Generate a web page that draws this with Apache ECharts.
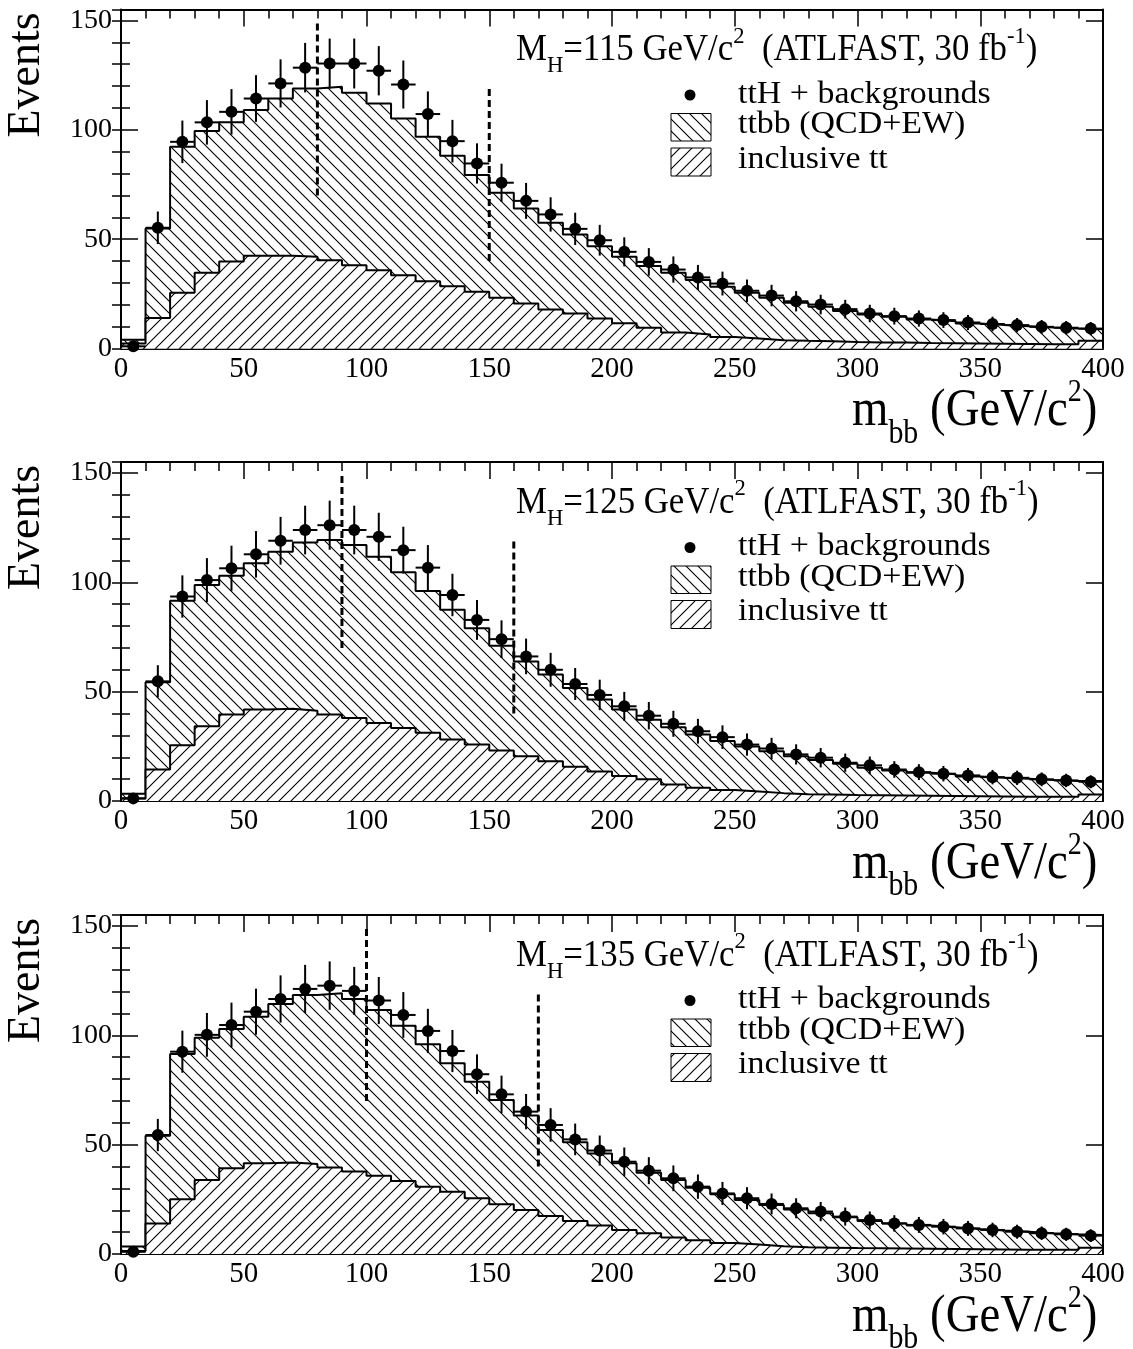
<!DOCTYPE html>
<html><head><meta charset="utf-8">
<script src="https://cdn.jsdelivr.net/npm/echarts@6/dist/echarts.min.js"></script>
<style>html,body{margin:0;padding:0;background:#fff}#c{width:1133px;height:1349px}</style>
</head><body><div id="c"></div>
<script>
// ---- bins (GeV/c^2): lower edges, 10 GeV wide ----
const binLow = [0,10,20,30,40,50,60,70,80,90,100,110,120,130,140,150,160,170,180,190,
                200,210,220,230,240,250,260,270,280,290,300,310,320,330,340,350,360,370,380,390];
const binWidth = 10;

// ---- Higgs mass hypotheses ----
const higgsMass = ['115', '125', '135'];

// ---- M_H = 115 ----
const data115 = [1.0,55.2,94.5,103.4,108.2,114.3,121.2,128.4,130.3,130.3,127.0,120.7,107.2,94.8,84.6,75.8,67.5,61.3,54.7,49.5,
                 44.2,39.6,36.1,32.5,29.7,26.4,24.2,21.6,20.1,18.0,16.0,14.8,13.7,13.0,11.9,11.2,10.7,9.9,9.5,9.1];
const bkg115  = [4.0,54.9,92.2,99.4,103.4,109.0,114.3,118.9,119.7,116.9,112.0,105.2,96.8,88.1,79.3,71.2,64.0,57.5,52.1,46.8,
                 41.9,37.7,34.6,31.3,28.2,25.5,23.2,20.9,19.1,17.2,15.5,14.5,13.3,12.5,11.4,10.7,10.2,9.6,9.1,8.8];
const tt115   = [2.3,14.0,25.5,34.6,39.8,42.4,42.4,41.9,40.4,38.1,35.8,33.5,30.8,28.5,25.9,23.2,20.6,17.8,16.0,13.7,
                 11.5,9.5,7.3,6.4,5.3,4.6,3.8,3.5,3.3,3.0,2.8,2.7,2.5,2.4,2.3,2.2,2.1,2.0,1.9,3.5];

// ---- M_H = 125 ----
const data125 = [1.2,54.7,93.5,101.0,106.4,112.8,119.0,123.9,126.1,123.9,120.8,114.7,106.7,94.2,82.8,74.0,66.1,60.0,53.5,48.5,
                 43.3,39.0,35.3,31.9,29.2,25.8,24.0,21.3,19.8,17.5,16.3,14.4,13.2,12.5,11.7,10.9,10.6,9.9,9.4,8.8];
const bkg125  = [3.3,54.3,91.6,98.8,103.0,108.7,114.0,118.2,119.3,117.0,111.7,104.6,96.0,87.4,79.0,71.0,63.8,57.8,51.7,46.4,
                 41.8,37.2,33.7,30.4,27.4,24.9,22.8,20.5,18.7,17.0,15.2,14.0,12.9,12.2,11.2,10.6,10.2,9.6,9.1,9.1];
const tt125   = [1.2,14.4,25.5,34.2,39.5,41.8,42.2,41.3,39.5,38.0,35.7,33.4,31.2,28.1,25.8,23.1,20.5,18.2,15.7,13.5,
                 11.4,9.9,7.5,6.1,5.0,4.3,3.6,3.1,3.0,2.7,2.6,2.5,2.4,2.3,2.2,2.1,2.0,1.9,1.9,3.0];

// ---- M_H = 135 ----
const data135 = [1.0,54.4,92.5,100.2,104.7,110.8,116.6,121.2,122.7,120.3,115.9,109.3,102.0,92.8,82.2,73.0,65.1,59.0,52.4,47.3,
                 42.2,38.1,34.6,30.8,27.7,25.5,22.9,20.9,19.4,17.1,15.5,14.0,13.3,12.5,11.7,11.0,10.2,9.5,9.0,8.4];
const bkg135  = [3.4,54.1,91.5,98.9,102.9,108.5,114.3,118.4,119.2,116.6,111.6,104.4,95.9,87.2,78.8,70.4,63.3,56.7,51.1,46.0,
                 41.5,37.2,33.8,30.3,27.3,24.7,22.4,20.4,18.6,16.8,15.1,14.0,13.0,12.2,11.4,10.7,10.2,9.5,9.0,8.7];
const tt135   = [1.4,14.0,25.0,33.8,39.2,41.5,41.8,41.2,39.5,37.7,35.8,33.4,30.8,28.5,25.5,22.7,20.1,17.4,15.1,13.0,
                 11.0,9.5,7.5,6.3,5.0,4.3,3.5,3.1,2.9,2.7,2.6,2.5,2.4,2.3,2.2,2.1,2.0,1.9,1.9,2.9];

// ---- mass-window cuts (dashed lines) ----
const windowLow  = [80, 90, 100];
const windowHigh = [150, 160, 170];
const windowLowSpan  = [70, 150];
const windowHighSpan = [40, 120];

// ---- axes ----
const xRange = [0, 400], xMajor = 50, xMinorSplit = 5;
const yRange = [0, 155], yMajor = 50, yMinor = 10;

// ---- legend texts ----
const legendLabels = ['ttH + backgrounds', 'ttbb (QCD+EW)', 'inclusive tt'];

const panels = [
  {mh: higgsMass[0], data: data115, bkg: bkg115, tt: tt115, lo: windowLow[0], hi: windowHigh[0]},
  {mh: higgsMass[1], data: data125, bkg: bkg125, tt: tt125, lo: windowLow[1], hi: windowHigh[1]},
  {mh: higgsMass[2], data: data135, bkg: bkg135, tt: tt135, lo: windowLow[2], hi: windowHigh[2]}
];

// ---- layout ----
const FF = '"Liberation Serif", "Times New Roman", serif';
const gridTops = [9.5, 462, 915];
const gridLeft = 121, gridW = 982, gridH = 339;

function hatch(dir) {
  const s = 12, c = document.createElement('canvas');
  c.width = s; c.height = s;
  const g = c.getContext('2d');
  g.fillStyle = '#fff'; g.fillRect(0, 0, s, s);
  g.strokeStyle = '#000'; g.lineWidth = 1.1;
  g.beginPath();
  if (dir === '/') {
    g.moveTo(0, s); g.lineTo(s, 0);
    g.moveTo(-2, 2); g.lineTo(2, -2);
    g.moveTo(s - 2, s + 2); g.lineTo(s + 2, s - 2);
  } else {
    g.moveTo(0, 0); g.lineTo(s, s);
    g.moveTo(s - 2, -2); g.lineTo(s + 2, 2);
    g.moveTo(-2, s - 2); g.lineTo(2, s + 2);
  }
  g.stroke();
  return c;
}
const patBkg = {image: hatch('\\'), repeat: 'repeat'};
const patTT  = {image: hatch('/'), repeat: 'repeat'};

const mctx = document.createElement('canvas').getContext('2d');
function tw(t, size) { mctx.font = size + 'px "Liberation Serif"'; return mctx.measureText(t).width; }
function piece(t, x, base, size) {
  return {type: 'text', x: x, y: base - 0.34 * size,
    style: {text: t, fontSize: size, fontFamily: FF, fill: '#000', align: 'left', verticalAlign: 'middle'}};
}
function scriptLine(parts, F) {
  let x = 0; const ch = [];
  parts.forEach(p => {
    const size = p.sub || p.sup ? F * (p.k || 0.65) : F;
    const dy = p.sub ? 0.3 * F : (p.sup ? -0.5 * F : 0);
    ch.push(piece(p.t, x, dy, size));
    x += tw(p.t, size);
  });
  return ch;
}

function histLine(vals) {
  const pts = [[binLow[0], 0]];
  vals.forEach((v, i) => pts.push([binLow[i], v]));
  const lastEdge = binLow[binLow.length - 1] + binWidth;
  pts.push([lastEdge, vals[vals.length - 1]]);
  pts.push([lastEdge, 0]);
  return pts;
}

const grid = [], xAxis = [], yAxis = [], series = [], graphic = [];
const tick = {color: '#000', width: 1.5};

panels.forEach((P, p) => {
  const top = gridTops[p];
  grid.push({left: gridLeft, top: top, width: gridW, height: gridH, containLabel: false, outerBoundsMode: 'none'});
  ['bottom', 'top'].forEach(pos => {
    xAxis.push({gridIndex: p, type: 'value', position: pos, min: xRange[0], max: xRange[1], interval: xMajor,
      axisLine: {show: true, onZero: false, lineStyle: {color: '#000', width: 2}},
      axisTick: {show: true, inside: true, length: 17, lineStyle: tick},
      minorTick: {show: true, splitNumber: xMinorSplit, length: 9, lineStyle: tick},
      splitLine: {show: false}, minorSplitLine: {show: false},
      axisLabel: {show: pos === 'bottom', fontSize: 29, fontFamily: FF, color: '#000', margin: 6}});
  });
  ['left', 'right'].forEach(pos => {
    yAxis.push({gridIndex: p, type: 'value', position: pos, min: yRange[0], max: yRange[1], interval: yMajor,
      axisLine: {show: true, onZero: false, lineStyle: {color: '#000', width: 2}},
      axisTick: {show: true, inside: true, length: 17, lineStyle: tick},
      splitLine: {show: false},
      axisLabel: {show: pos === 'left', fontSize: 28, fontFamily: FF, color: '#000', margin: 9,
        formatter: v => (v % yMajor === 0 ? String(v) : '')}});
    yAxis.push({gridIndex: p, type: 'value', position: pos, min: yRange[0], max: yRange[1], interval: yMinor,
      axisLine: {show: false},
      axisTick: {show: true, inside: true, length: 9, lineStyle: tick},
      splitLine: {show: false}, axisLabel: {show: false}});
  });
  const xi = 2 * p, yi = 4 * p;
  series.push({type: 'line', xAxisIndex: xi, yAxisIndex: yi, data: histLine(P.bkg), step: 'end',
    symbol: 'none', silent: true, z: 2,
    lineStyle: {color: '#000', width: 2}, areaStyle: {color: patBkg, opacity: 1}});
  series.push({type: 'line', xAxisIndex: xi, yAxisIndex: yi, data: histLine(P.tt), step: 'end',
    symbol: 'none', silent: true, z: 3,
    lineStyle: {color: '#000', width: 2}, areaStyle: {color: patTT, opacity: 1}});
  series.push({type: 'line', xAxisIndex: xi, yAxisIndex: yi, symbol: 'none', silent: true, z: 4,
    data: [[P.lo, windowLowSpan[0]], [P.lo, windowLowSpan[1]]],
    lineStyle: {color: '#000', width: 3, type: [7, 4]}});
  series.push({type: 'line', xAxisIndex: xi, yAxisIndex: yi, symbol: 'none', silent: true, z: 4,
    data: [[P.hi, windowHighSpan[0]], [P.hi, windowHighSpan[1]]],
    lineStyle: {color: '#000', width: 3, type: [7, 4]}});
  series.push({type: 'custom', xAxisIndex: xi, yAxisIndex: yi, silent: true, z: 5, clip: false,
    data: P.data.map((v, i) => [binLow[i] + binWidth / 2, v]),
    renderItem: (params, api) => {
      const x = api.value(0), y = api.value(1), e = Math.sqrt(y);
      const c = api.coord([x, y]), t = api.coord([x, y + e]), b = api.coord([x, Math.max(0, y - e)]);
      const l = api.coord([x - binWidth / 2, y]), r = api.coord([x + binWidth / 2, y]);
      return {type: 'group', children: [
        {type: 'line', shape: {x1: c[0], y1: t[1], x2: c[0], y2: b[1]}, style: {stroke: '#000', lineWidth: 2}},
        {type: 'line', shape: {x1: l[0], y1: c[1], x2: r[0], y2: c[1]}, style: {stroke: '#000', lineWidth: 2}},
        {type: 'circle', shape: {cx: c[0], cy: c[1], r: 6}, style: {fill: '#000'}}
      ]};
    }});

  // ---- texts ----
  graphic.push({type: 'text', x: 27.4, y: top + 65.5, rotation: Math.PI / 2,
    style: {text: 'Events', fontSize: 46, fontFamily: FF, fill: '#000', align: 'center', verticalAlign: 'middle'}});
  graphic.push({type: 'group', x: 852, y: top + 420, scaleX: 0.9,
    children: scriptLine([{t: 'm'}, {t: 'bb', sub: true, k: 0.64}, {t: ' (GeV/c'}, {t: '2', sup: true, k: 0.6}, {t: ')'}], 52)});
  graphic.push({type: 'group', x: 516, y: top + 53.5, scaleX: 0.94,
    children: scriptLine([{t: 'M'}, {t: 'H', sub: true}, {t: '=' + P.mh + ' GeV/c'}, {t: '2', sup: true},
      {t: '  (ATLFAST, 30 fb'}, {t: '-1', sup: true}, {t: ')'}], 37)});
  // legend
  graphic.push({type: 'circle', shape: {cx: 690, cy: top + 85.5, r: 5.5}, style: {fill: '#000'}});
  graphic.push({type: 'rect', shape: {x: 671, y: top + 104, width: 40, height: 27.5},
    style: {fill: patBkg, stroke: '#000', lineWidth: 1}});
  graphic.push({type: 'rect', shape: {x: 671, y: top + 138.5, width: 40, height: 28},
    style: {fill: patTT, stroke: '#000', lineWidth: 1}});
  const lb = [95.5, 126, 160.5];
  legendLabels.forEach((s, i) => {
    graphic.push({type: 'group', x: 738, y: top + lb[i], scaleX: 1.06, children: scriptLine([{t: s}], 32)});
  });
});

const chart = echarts.init(document.getElementById('c'), null, {renderer: 'canvas'});
chart.setOption({animation: false, backgroundColor: '#fff', grid, xAxis, yAxis, series, graphic});
</script></body></html>
